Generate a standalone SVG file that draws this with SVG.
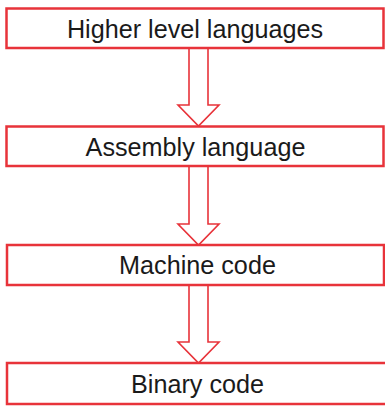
<svg xmlns="http://www.w3.org/2000/svg" width="385" height="407" viewBox="0 0 385 407">
  <style>
    .box { fill: #ffffff; stroke: #e8333a; stroke-width: 2.5; }
    .lbl { font-family: "Liberation Sans", Arial, sans-serif; font-size: 25.2px; fill: #1a1a1a; text-anchor: middle; }
    .arrow { fill: #ffffff; stroke: #e8333a; stroke-width: 1.6; stroke-linejoin: miter; }
  </style>
  <rect width="385" height="407" fill="#ffffff"/>
  <g id="connectors">
    <polygon class="arrow" points="189,48 208,48 208,105 219,105 198.5,126 178,105 189,105"/>
    <polygon class="arrow" points="189,166 208,166 208,224 219,224 198.5,245 178,224 189,224"/>
    <polygon class="arrow" points="189,285 208,285 208,342 219,342 198.5,363 178,342 189,342"/>
  </g>
  <g id="node-higher">
    <rect class="box" x="6.5" y="8.5" width="377" height="39.5"/>
    <text class="lbl" x="195" y="38">Higher level languages</text>
  </g>
  <g id="node-assembly">
    <rect class="box" x="6.5" y="126.5" width="377" height="39.5"/>
    <text class="lbl" x="195.5" y="156">Assembly language</text>
  </g>
  <g id="node-machine">
    <rect class="box" x="7" y="245" width="377" height="40"/>
    <text class="lbl" x="197.5" y="274">Machine code</text>
  </g>
  <g id="node-binary">
    <rect class="box" x="7" y="363" width="385" height="41"/>
    <text class="lbl" x="197.5" y="393">Binary code</text>
  </g>
</svg>
